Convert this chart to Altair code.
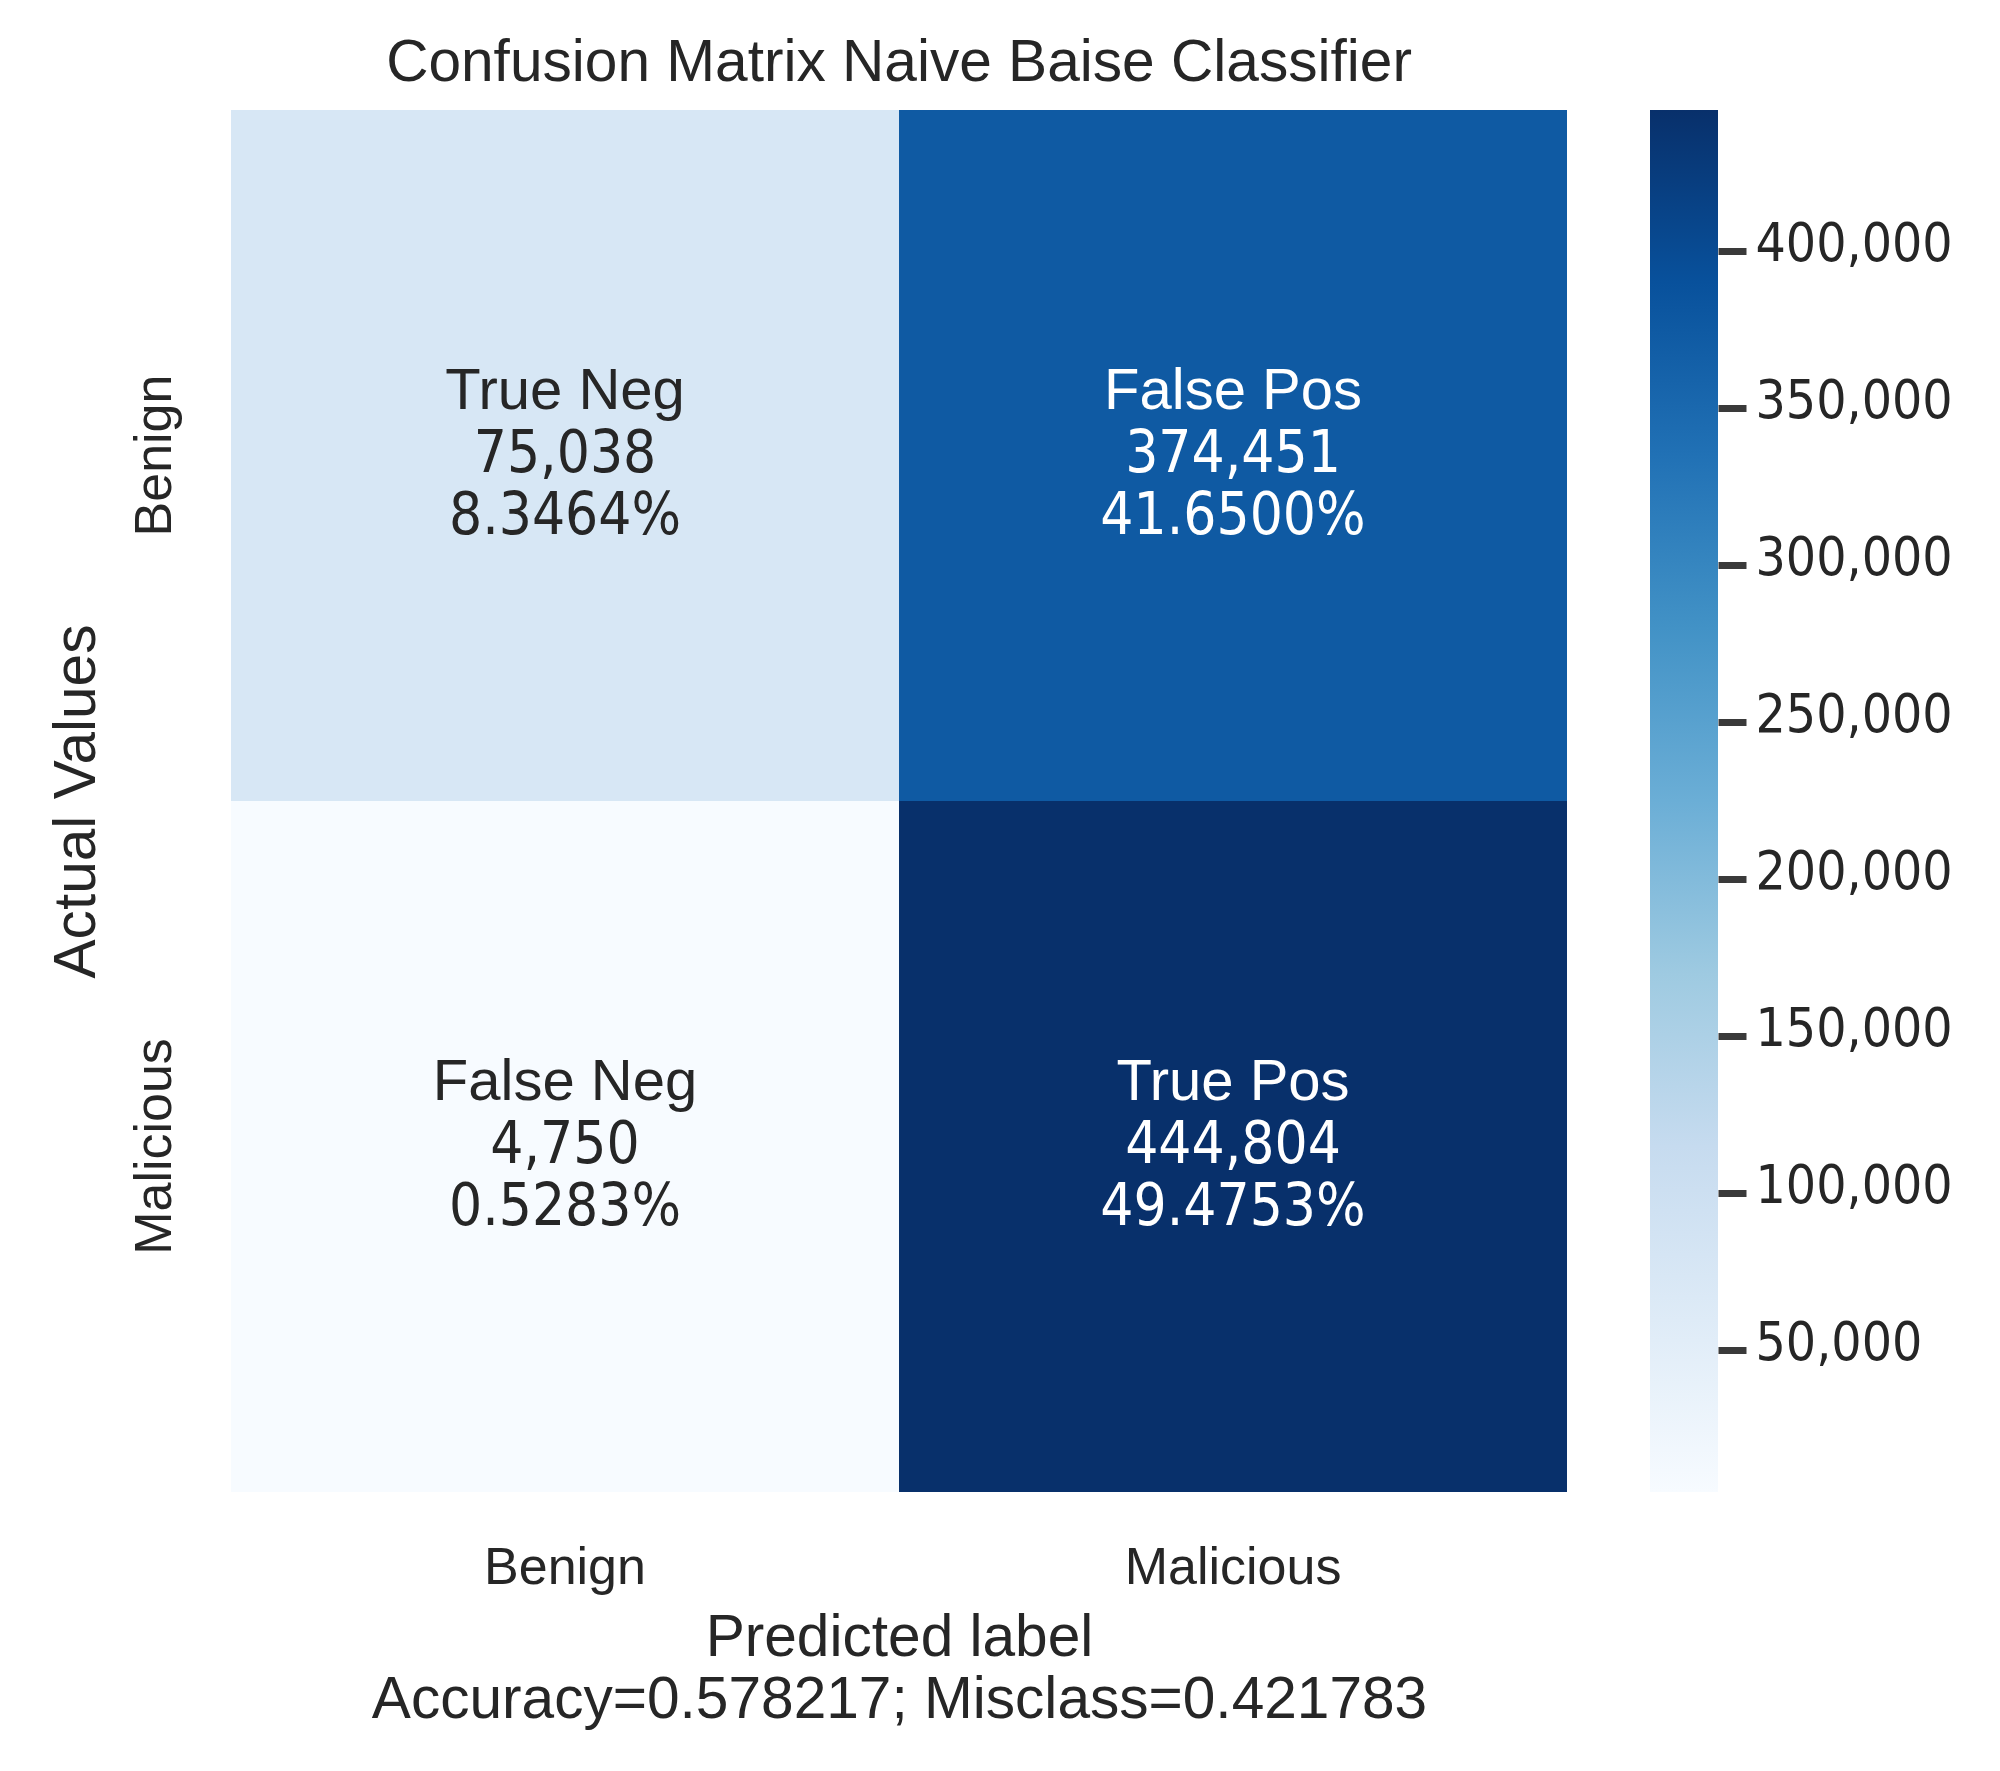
import altair as alt
import pandas as pd

# ---- data ----
classes = ["Benign", "Malicious"]
actual = ["Benign", "Benign", "Malicious", "Malicious"]
predicted = ["Benign", "Malicious", "Benign", "Malicious"]
cell_names = ["True Neg", "False Pos", "False Neg", "True Pos"]
counts = [75038, 374451, 4750, 444804]
cbar_ticks = [50000, 100000, 150000, 200000, 250000, 300000, 350000, 400000]
blues = ["#f7fbff", "#deebf7", "#c6dbef", "#9ecae1", "#6baed6",
         "#4292c6", "#2171b5", "#08519c", "#08306b"]
title_text = "Confusion Matrix Naive Baise Classifier"
xlabel_lines = ["Predicted label", "Accuracy=0.578217; Misclass=0.421783"]
ylabel = "Actual Values"

total = sum(counts)
df = pd.DataFrame({
    "actual": actual,
    "predicted": predicted,
    "name": cell_names,
    "count": counts,
    "pct": [c / total for c in counts],
})

vmin, vmax = min(counts), max(counts)
stops = [vmin + i * (vmax - vmin) / 8 for i in range(9)]

W, H = 1336, 1382
TXT = "#262626"
SANS = "Liberation Sans, Arial, sans-serif"
NUMF = "DejaVu Sans Condensed, DejaVu Sans, sans-serif"

color_scale = alt.Scale(domain=stops, range=blues, interpolate="rgb")

x_enc = alt.X(
    "predicted:N", sort=classes,
    scale=alt.Scale(paddingInner=0, paddingOuter=0),
    axis=alt.Axis(
        orient="bottom", labelAngle=0, labelFont=SANS, labelFontSize=52,
        labelColor=TXT, labelPadding=50, labelLimit=0, ticks=False, tickSize=0,
        domain=False, grid=False,
        title=xlabel_lines, titleFont=SANS, titleFontSize=58.6,
        titleFontWeight="normal", titleColor=TXT, titleLineHeight=62,
        titleBaseline="alphabetic", titleY=163, titleLimit=0,
    ),
)
y_enc = alt.Y(
    "actual:N", sort=classes,
    scale=alt.Scale(paddingInner=0, paddingOuter=0),
    axis=alt.Axis(
        orient="left", labelAngle=270, labelAlign="center",
        labelBaseline="alphabetic", labelFont=SANS, labelFontSize=52,
        labelColor=TXT, labelPadding=61, labelLimit=0, ticks=False, tickSize=0,
        domain=False, grid=False,
        title=ylabel, titleFont=SANS, titleFontSize=58.6,
        titleFontWeight="normal", titleColor=TXT, titleAngle=270,
        titleAlign="center", titleBaseline="alphabetic",
        titleX=-137, titleY=H / 2, titleLimit=0,
    ),
)

base = alt.Chart(df).encode(x=x_enc, y=y_enc)

rects = base.mark_rect().encode(
    color=alt.Color("count:Q", scale=color_scale, legend=None)
)

txt_color = alt.condition(alt.datum["count"] > 200000,
                          alt.value("#ffffff"), alt.value(TXT))

lbl = base.mark_text(font=SANS, fontSize=58, baseline="middle", dy=-64).encode(
    text="name:N", color=txt_color)
cnt = base.mark_text(font=NUMF, fontSize=58, baseline="middle", dy=-1).encode(
    text=alt.Text("count:Q", format=",d"), color=txt_color)
pct = base.mark_text(font=NUMF, fontSize=58, baseline="middle", dy=61).encode(
    text=alt.Text("pct:Q", format=".4%"), color=txt_color)

main = alt.layer(rects, lbl, cnt, pct).properties(
    width=W, height=H,
    title=alt.TitleParams(
        text=title_text, font=SANS, fontSize=58.6, fontWeight="normal",
        color=TXT, anchor="middle", baseline="bottom", offset=-42,
    ),
)

cb_df = pd.DataFrame({"lo": [vmin], "hi": [vmax]})
gradient = alt.Gradient(
    gradient="linear",
    stops=[alt.GradientStop(offset=i / 8, color=c) for i, c in enumerate(blues)],
    x1=0, x2=0, y1=1, y2=0,
)
cbar = alt.Chart(cb_df).mark_rect(fill=gradient).encode(
    y=alt.Y(
        "lo:Q",
        scale=alt.Scale(domain=[vmin, vmax], nice=False, zero=False),
        axis=alt.Axis(
            orient="right", values=cbar_ticks, format=",d",
            labelFont=NUMF, labelFontSize=53, labelColor=TXT, labelLimit=0,
            labelPadding=9, labelOffset=-6, tickSize=28, tickWidth=7,
            tickColor="#3a3a3a", domain=False, grid=False, title=None,
        ),
    ),
    y2="hi:Q",
).properties(width=68, height=H)

chart = alt.hconcat(main, cbar, spacing=83).properties(
    padding={"left": 39, "top": 26, "right": 5, "bottom": 5},
    background="#ffffff",
).configure_view(strokeWidth=0)

chart.save("out.html", embed_options={"renderer": "svg", "actions": False})
